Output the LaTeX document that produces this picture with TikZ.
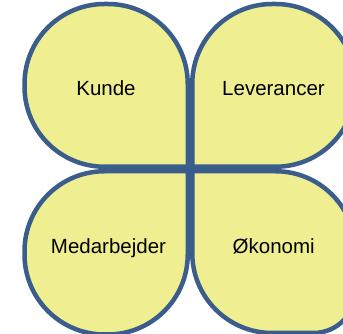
\documentclass[tikz,border=0pt]{standalone}
\usepackage{fontspec}
\setmainfont{Liberation Sans}
\definecolor{leaffill}{HTML}{EFEF91}
\definecolor{leafline}{HTML}{3B5D8C}
\begin{document}
\begin{tikzpicture}[x=1pt,y=1pt,
  leaf/.style={fill=leaffill,draw=leafline,line width=4.5pt,line join=miter},
  lbl/.style={anchor=base,inner sep=0pt,font=\fontsize{20.5}{24}\selectfont}]
\useasboundingbox (0,0) rectangle (343,334);
\clip (0,0) rectangle (343,334);
% top-left leaf (square corner at bottom-right)
\draw[leaf] (187.75,167.25) -- (104.5,167.25) arc[start angle=270,end angle=180,radius=80pt]
  -- (24.5,250) arc[start angle=180,end angle=90,radius=80pt]
  -- (107.75,330) arc[start angle=90,end angle=0,radius=80pt] -- cycle;
% top-right leaf (square corner at bottom-left)
\draw[leaf] (192.25,167.25) -- (275.5,167.25) arc[start angle=270,end angle=360,radius=80pt]
  -- (355.5,250) arc[start angle=0,end angle=90,radius=80pt]
  -- (272.25,330) arc[start angle=90,end angle=180,radius=80pt] -- cycle;
% bottom-left leaf (square corner at top-right)
\draw[leaf] (187.75,162.75) -- (104.5,162.75) arc[start angle=90,end angle=180,radius=80pt]
  -- (24.5,79.5) arc[start angle=180,end angle=270,radius=80pt]
  -- (107.75,-0.5) arc[start angle=270,end angle=360,radius=80pt] -- cycle;
% bottom-right leaf (square corner at top-left)
\draw[leaf] (192.25,162.75) -- (275.5,162.75) arc[start angle=90,end angle=0,radius=80pt]
  -- (355.5,43) arc[start angle=0,end angle=-90,radius=42pt]
  -- (272.25,1) arc[start angle=270,end angle=180,radius=80pt] -- cycle;
\node[lbl] (kunde) at (106,238.3) {Kunde};
\node[lbl] (lev) at (273.5,238.3) {Leverancer};
\node[lbl] (med) at (108.5,80.7) {Medarbejder};
\node[lbl] (oko) at (273.7,80.7) {Økonomi};
\end{tikzpicture}
\end{document}
